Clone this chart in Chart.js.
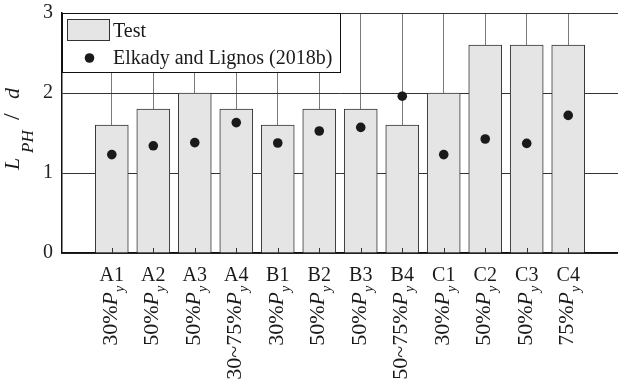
<!DOCTYPE html>
<html>
<head>
<meta charset="utf-8">
<script src="https://cdn.jsdelivr.net/npm/chart.js@4.4.1/dist/chart.umd.min.js"></script>
<style>
html,body{margin:0;padding:0;background:#fff;}
#c{display:block;}
</style>
</head>
<body>
<canvas id="c" width="618" height="382"></canvas>
<script>
const categories = ['A1','A2','A3','A4','B1','B2','B3','B4','C1','C2','C3','C4'];
const loadLabels = ['30%','50%','50%','30~75%','30%','50%','50%','50~75%','30%','50%','50%','75%'];
const testValues = [1.6,1.8,2.0,1.8,1.6,1.8,1.8,1.6,2.0,2.6,2.6,2.6];
const elkadyValues = [1.23,1.34,1.38,1.63,1.375,1.525,1.57,1.96,1.23,1.425,1.37,1.72];
const yTicks = [0,1,2,3];
const seriesNames = ['Test','Elkady and Lignos (2018b)'];

const SERIF = "'Liberation Serif','Times New Roman',serif";

const labelPlugin = {
  id: 'customLabels',
  afterDatasetsDraw(chart) {
    const ctx = chart.ctx;
    const xs = chart.scales.x, ys = chart.scales.y;
    const bottom = ys.getPixelForValue(0);
    ctx.save();
    ctx.strokeStyle = '#333';
    ctx.lineWidth = 1;
    categories.forEach((c, i) => {
      const px = Math.round(xs.getPixelForValue(i)) + 0.5;
      ctx.beginPath();
      ctx.moveTo(px, bottom);
      ctx.lineTo(px, bottom - 5);
      ctx.stroke();
    });
    ctx.restore();
  },
  afterDraw(chart) {
    const ctx = chart.ctx;
    const xs = chart.scales.x;
    const area = chart.chartArea;
    ctx.save();
    ctx.fillStyle = '#1a1a1a';
    categories.forEach((c, i) => {
      const cx = xs.getPixelForValue(i);
      ctx.font = '20px ' + SERIF;
      ctx.textAlign = 'center';
      ctx.textBaseline = 'alphabetic';
      ctx.fillText(c, cx, 281);
      ctx.save();
      ctx.translate(cx + 5, 292);
      ctx.rotate(-Math.PI / 2);
      ctx.textAlign = 'left';
      ctx.font = '22px ' + SERIF;
      const w1 = ctx.measureText(loadLabels[i]).width;
      ctx.font = 'italic 22px ' + SERIF;
      const wP = ctx.measureText('P').width;
      ctx.font = '22px ' + SERIF;
      ctx.fillText(loadLabels[i], -(w1 + wP), 0);
      ctx.font = 'italic 22px ' + SERIF;
      ctx.fillText('P', -wP, 0);
      ctx.font = 'italic 14px ' + SERIF;
      ctx.fillText('y', 0, 7);
      ctx.restore();
    });
    // y axis title
    ctx.save();
    ctx.translate(19, 170);
    ctx.rotate(-Math.PI / 2);
    ctx.textAlign = 'left';
    ctx.textBaseline = 'alphabetic';
    ctx.font = 'italic 22px ' + SERIF;
    ctx.fillText('L', 0, 0);
    ctx.font = 'italic 17px ' + SERIF;
    ctx.fillText('PH', 17, 14);
    ctx.font = '24px ' + SERIF;
    ctx.fillText('/', 50, 0);
    ctx.font = 'italic 22px ' + SERIF;
    ctx.fillText('d', 71, 0);
    ctx.restore();
    // legend
    const lx = area.left, ly = area.top;
    ctx.fillStyle = '#fff';
    ctx.fillRect(lx, ly, 279, 59);
    ctx.strokeStyle = '#111';
    ctx.lineWidth = 1;
    ctx.strokeRect(lx + 0.5, ly + 0.5, 278, 59);
    ctx.fillStyle = '#e5e5e5';
    ctx.fillRect(67.5, 19.5, 42, 21);
    ctx.strokeStyle = '#333';
    ctx.strokeRect(67.5, 19.5, 42, 21);
    ctx.fillStyle = '#1a1a1a';
    ctx.font = '20px ' + SERIF;
    ctx.textAlign = 'left';
    ctx.fillText(seriesNames[0], 113, 37);
    ctx.beginPath();
    ctx.arc(89.5, 58, 4.8, 0, Math.PI * 2);
    ctx.fill();
    ctx.fillText(seriesNames[1], 113, 64);
    ctx.restore();
  }
};

new Chart(document.getElementById('c'), {
  type: 'bar',
  data: {
    datasets: [
      {
        type: 'scatter',
        label: seriesNames[1],
        data: elkadyValues.map((v, i) => ({x: i, y: v})),
        backgroundColor: '#1a1a1a',
        borderColor: '#1a1a1a',
        pointRadius: 4.8,
        pointBorderWidth: 0,
        order: 1
      },
      {
        type: 'bar',
        label: seriesNames[0],
        data: testValues.map((v, i) => ({x: i, y: v})),
        backgroundColor: '#e5e5e5',
        borderColor: '#333',
        borderWidth: 1,
        barThickness: 33,
        order: 2
      }
    ]
  },
  options: {
    responsive: false,
    animation: false,
    devicePixelRatio: 1,
    layout: {autoPadding: false, padding: {top: 13, right: 0, left: 0, bottom: 0}},
    plugins: {legend: {display: false}, tooltip: {enabled: false}},
    scales: {
      x: {
        type: 'linear',
        offset: false,
        min: -1.2,
        max: 12.2,
        afterBuildTicks(scale) { scale.ticks = categories.map((c, i) => ({value: i})); },
        afterFit(scale) { scale.height = 129; scale.paddingLeft = 0; scale.paddingRight = 0; },
        grid: {color: '#7a7a7a', lineWidth: 1, drawTicks: false, offset: false},
        border: {display: true, color: '#111', width: 1.5},
        ticks: {display: false}
      },
      y: {
        min: 0,
        max: 3,
        afterBuildTicks(scale) { scale.ticks = yTicks.map(v => ({value: v})); },
        afterFit(scale) { scale.width = 62; scale.paddingTop = 0; scale.paddingBottom = 0; },
        grid: {color: '#333', lineWidth: 1, drawTicks: false},
        border: {display: true, color: '#111', width: 1.5},
        ticks: {font: {family: SERIF, size: 20}, color: '#222', padding: 9}
      }
    }
  },
  plugins: [labelPlugin]
});
</script>
</body>
</html>
